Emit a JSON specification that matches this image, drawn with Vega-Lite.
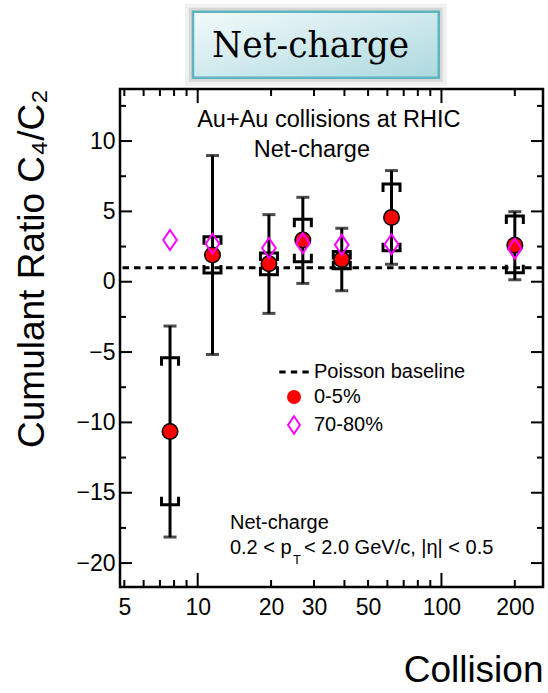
{
  "$schema": "https://vega.github.io/schema/vega-lite/v6.json",
  "width": 423,
  "height": 498,
  "autosize": "none",
  "padding": {"left": 120, "top": 89, "right": 5, "bottom": 106},
  "background": "white",
  "config": {
    "view": {"stroke": "black", "strokeWidth": 2.5},
    "axis": {"domain": false, "grid": false, "tickColor": "black", "tickWidth": 2, "labelFont": "Liberation Sans", "labelColor": "black", "titleFont": "Liberation Sans", "titleColor": "black", "titleFontWeight": "normal"},
    "legend": {"symbolStrokeWidth": 2, "symbolSize": 196},
    "text": {"font": "Liberation Sans", "color": "black"}
  },
  "datasets": {
    "cent": [
      {"energy": 7.7, "series": "0-5%", "value": -10.65, "statLo": -18.15, "statHi": -3.15, "sysLo": -15.85, "sysHi": -5.4},
      {"energy": 11.5, "series": "0-5%", "value": 1.9, "statLo": -5.17, "statHi": 8.97, "sysLo": 0.62, "sysHi": 3.2},
      {"energy": 19.6, "series": "0-5%", "value": 1.28, "statLo": -2.25, "statHi": 4.77, "sysLo": 0.5, "sysHi": 2.05},
      {"energy": 27, "series": "0-5%", "value": 2.97, "statLo": -0.12, "statHi": 6.0, "sysLo": 1.42, "sysHi": 4.44},
      {"energy": 39, "series": "0-5%", "value": 1.58, "statLo": -0.64, "statHi": 3.8, "sysLo": 0.92, "sysHi": 2.14},
      {"energy": 62.4, "series": "0-5%", "value": 4.56, "statLo": 1.24, "statHi": 7.9, "sysLo": 2.2, "sysHi": 6.95},
      {"energy": 200, "series": "0-5%", "value": 2.6, "statLo": 0.14, "statHi": 4.98, "sysLo": 0.64, "sysHi": 4.68},
      {"energy": 7.7, "series": "70-80%", "value": 2.97},
      {"energy": 11.5, "series": "70-80%", "value": 2.7},
      {"energy": 19.6, "series": "70-80%", "value": 2.4},
      {"energy": 27, "series": "70-80%", "value": 2.73},
      {"energy": 39, "series": "70-80%", "value": 2.62},
      {"energy": 62.4, "series": "70-80%", "value": 2.66},
      {"energy": 200, "series": "70-80%", "value": 2.35}
    ],
    "xticks": [
      {"v": 5, "kind": "minor"}, {"v": 6, "kind": "minor"}, {"v": 7, "kind": "minor"}, {"v": 8, "kind": "minor"}, {"v": 9, "kind": "minor"},
      {"v": 10, "kind": "major"},
      {"v": 20, "kind": "minor"}, {"v": 30, "kind": "minor"}, {"v": 40, "kind": "minor"}, {"v": 50, "kind": "minor"}, {"v": 60, "kind": "minor"}, {"v": 70, "kind": "minor"}, {"v": 80, "kind": "minor"}, {"v": 90, "kind": "minor"},
      {"v": 100, "kind": "major"},
      {"v": 200, "kind": "minor"}
    ],
    "yticks": [
      {"v": -20, "kind": "major"}, {"v": -17.5, "kind": "minor"}, {"v": -15, "kind": "major"}, {"v": -12.5, "kind": "minor"},
      {"v": -10, "kind": "major"}, {"v": -7.5, "kind": "minor"}, {"v": -5, "kind": "major"}, {"v": -2.5, "kind": "minor"},
      {"v": 0, "kind": "major"}, {"v": 2.5, "kind": "minor"}, {"v": 5, "kind": "major"}, {"v": 7.5, "kind": "minor"},
      {"v": 10, "kind": "major"}, {"v": 12.5, "kind": "minor"}
    ]
  },
  "layer": [
    {
      "data": {"values": [{}]},
      "mark": {"type": "rect", "fill": null, "stroke": "black", "strokeOpacity": 0.06, "strokeWidth": 16, "clip": false},
      "encoding": {
        "x": {"datum": 9.566, "type": "quantitative", "scale": {"type": "log", "domain": [4.8, 261], "nice": false}},
        "x2": {"datum": 97.5},
        "y": {"datum": 19.2, "type": "quantitative", "scale": {"domain": [-21.7, 13.7], "nice": false, "zero": false}},
        "y2": {"datum": 14.5}
      }
    },
    {
      "data": {"values": [{}]},
      "mark": {"type": "rect", "fill": null, "stroke": "black", "strokeOpacity": 0.1, "strokeWidth": 8, "clip": false},
      "encoding": {
        "x": {"datum": 9.566, "type": "quantitative", "scale": {"type": "log", "domain": [4.8, 261], "nice": false}},
        "x2": {"datum": 97.5},
        "y": {"datum": 19.2, "type": "quantitative", "scale": {"domain": [-21.7, 13.7], "nice": false, "zero": false}},
        "y2": {"datum": 14.5}
      }
    },
    {
      "data": {"values": [{}]},
      "mark": {"type": "rect", "clip": false, "stroke": "#5db5c0", "strokeWidth": 2.5,
        "fill": {"gradient": "linear", "x1": 0, "y1": 0, "x2": 1, "y2": 1, "stops": [{"offset": 0, "color": "#f3fafb"}, {"offset": 1, "color": "#acd9df"}]}},
      "encoding": {
        "x": {"datum": 9.566, "type": "quantitative", "scale": {"type": "log", "domain": [4.8, 261], "nice": false}},
        "x2": {"datum": 97.5},
        "y": {"datum": 19.2, "type": "quantitative", "scale": {"domain": [-21.7, 13.7], "nice": false, "zero": false}},
        "y2": {"datum": 14.5}
      }
    },
    {
      "data": {"values": [{}]},
      "mark": {"type": "text", "text": "Net-charge", "font": "DejaVu Serif", "fontSize": 34.5, "align": "left", "baseline": "alphabetic", "clip": false},
      "encoding": {
        "x": {"datum": 11.45, "type": "quantitative", "scale": {"type": "log", "domain": [4.8, 261], "nice": false}},
        "y": {"datum": 15.96, "type": "quantitative", "scale": {"domain": [-21.7, 13.7], "nice": false, "zero": false}}
      }
    },
    {
      "data": {"name": "xticks"},
      "transform": [{"filter": "datum.kind === 'major'"}],
      "mark": {"type": "rule", "color": "black", "strokeWidth": 2},
      "encoding": {
        "x": {"field": "v", "type": "quantitative", "scale": {"type": "log", "domain": [4.8, 261], "nice": false}},
        "y": {"datum": -21.7, "type": "quantitative", "scale": {"domain": [-21.7, 13.7], "nice": false, "zero": false}},
        "y2": {"datum": -20.7}
      }
    },
    {
      "data": {"name": "xticks"},
      "transform": [{"filter": "datum.kind === 'minor'"}],
      "mark": {"type": "rule", "color": "black", "strokeWidth": 2},
      "encoding": {
        "x": {"field": "v", "type": "quantitative", "scale": {"type": "log", "domain": [4.8, 261], "nice": false}},
        "y": {"datum": -21.7, "type": "quantitative", "scale": {"domain": [-21.7, 13.7], "nice": false, "zero": false}},
        "y2": {"datum": -21.2}
      }
    },
    {
      "data": {"name": "xticks"},
      "transform": [{"filter": "datum.kind === 'major'"}],
      "mark": {"type": "rule", "color": "black", "strokeWidth": 2},
      "encoding": {
        "x": {"field": "v", "type": "quantitative", "scale": {"type": "log", "domain": [4.8, 261], "nice": false}},
        "y": {"datum": 13.7, "type": "quantitative", "scale": {"domain": [-21.7, 13.7], "nice": false, "zero": false}},
        "y2": {"datum": 12.7}
      }
    },
    {
      "data": {"name": "xticks"},
      "transform": [{"filter": "datum.kind === 'minor'"}],
      "mark": {"type": "rule", "color": "black", "strokeWidth": 2},
      "encoding": {
        "x": {"field": "v", "type": "quantitative", "scale": {"type": "log", "domain": [4.8, 261], "nice": false}},
        "y": {"datum": 13.7, "type": "quantitative", "scale": {"domain": [-21.7, 13.7], "nice": false, "zero": false}},
        "y2": {"datum": 13.2}
      }
    },
    {
      "data": {"name": "yticks"},
      "transform": [{"filter": "datum.kind === 'major'"}],
      "mark": {"type": "rule", "color": "black", "strokeWidth": 2},
      "encoding": {
        "y": {"field": "v", "type": "quantitative", "scale": {"domain": [-21.7, 13.7], "nice": false, "zero": false}},
        "x": {"datum": 4.8, "type": "quantitative", "scale": {"type": "log", "domain": [4.8, 261], "nice": false}},
        "x2": {"datum": 5.376}
      }
    },
    {
      "data": {"name": "yticks"},
      "transform": [{"filter": "datum.kind === 'minor'"}],
      "mark": {"type": "rule", "color": "black", "strokeWidth": 2},
      "encoding": {
        "y": {"field": "v", "type": "quantitative", "scale": {"domain": [-21.7, 13.7], "nice": false, "zero": false}},
        "x": {"datum": 4.8, "type": "quantitative", "scale": {"type": "log", "domain": [4.8, 261], "nice": false}},
        "x2": {"datum": 5.08}
      }
    },
    {
      "data": {"name": "yticks"},
      "transform": [{"filter": "datum.kind === 'major'"}],
      "mark": {"type": "rule", "color": "black", "strokeWidth": 2},
      "encoding": {
        "y": {"field": "v", "type": "quantitative", "scale": {"domain": [-21.7, 13.7], "nice": false, "zero": false}},
        "x": {"datum": 261, "type": "quantitative", "scale": {"type": "log", "domain": [4.8, 261], "nice": false}},
        "x2": {"datum": 233}
      }
    },
    {
      "data": {"name": "yticks"},
      "transform": [{"filter": "datum.kind === 'minor'"}],
      "mark": {"type": "rule", "color": "black", "strokeWidth": 2},
      "encoding": {
        "y": {"field": "v", "type": "quantitative", "scale": {"domain": [-21.7, 13.7], "nice": false, "zero": false}},
        "x": {"datum": 261, "type": "quantitative", "scale": {"type": "log", "domain": [4.8, 261], "nice": false}},
        "x2": {"datum": 246.6}
      }
    },
    {
      "data": {"values": [{}]},
      "mark": {"type": "rule", "color": "black", "strokeWidth": 3, "strokeDash": [6.5, 5]},
      "encoding": {
        "y": {"datum": 1, "type": "quantitative", "scale": {"domain": [-21.7, 13.7], "nice": false, "zero": false}}
      }
    },
    {
      "data": {"name": "cent"},
      "transform": [{"filter": "datum.series === '0-5%'"}],
      "mark": {"type": "rule", "color": "black", "strokeWidth": 3},
      "encoding": {
        "x": {"field": "energy", "type": "quantitative", "scale": {"type": "log", "domain": [4.8, 261], "nice": false},
          "axis": {"orient": "bottom", "values": [5, 10, 20, 30, 50, 100, 200], "format": "d", "ticks": false, "labelFontSize": 23, "labelPadding": 9, "labelFlush": false, "labelOverlap": false,
            "title": "Collision", "titleFontSize": 37, "titleAnchor": "end", "titleAlign": "right", "titlePadding": 33}},
        "y": {"field": "statLo", "type": "quantitative", "scale": {"domain": [-21.7, 13.7], "nice": false, "zero": false},
          "axis": {"orient": "left", "values": [-20, -15, -10, -5, 0, 5, 10], "ticks": false, "labelFontSize": 23, "labelPadding": 5, "labelFlush": false, "labelOverlap": false,
            "title": "Cumulant Ratio C₄/C₂", "titleFontSize": 37, "titleAnchor": "end", "titlePadding": 24}},
        "y2": {"field": "statHi"}
      }
    },
    {
      "data": {"name": "cent"},
      "transform": [{"filter": "datum.series === '0-5%'"}, {"fold": ["statLo", "statHi"], "as": ["which", "capY"]}],
      "mark": {"type": "tick", "orient": "horizontal", "color": "black", "size": 13, "thickness": 3},
      "encoding": {
        "x": {"field": "energy", "type": "quantitative", "scale": {"type": "log", "domain": [4.8, 261], "nice": false}},
        "y": {"field": "capY", "type": "quantitative", "scale": {"domain": [-21.7, 13.7], "nice": false, "zero": false}}
      }
    },
    {
      "data": {"name": "cent"},
      "transform": [{"filter": "datum.series === '0-5%'"}],
      "mark": {"type": "point", "shape": "M-1,0.94V0H1V0.94", "size": 289, "filled": false, "stroke": "black", "strokeWidth": 3, "opacity": 1},
      "encoding": {
        "x": {"field": "energy", "type": "quantitative", "scale": {"type": "log", "domain": [4.8, 261], "nice": false}},
        "y": {"field": "sysHi", "type": "quantitative", "scale": {"domain": [-21.7, 13.7], "nice": false, "zero": false}}
      }
    },
    {
      "data": {"name": "cent"},
      "transform": [{"filter": "datum.series === '0-5%'"}],
      "mark": {"type": "point", "shape": "M-1,-0.94V0H1V-0.94", "size": 289, "filled": false, "stroke": "black", "strokeWidth": 3, "opacity": 1},
      "encoding": {
        "x": {"field": "energy", "type": "quantitative", "scale": {"type": "log", "domain": [4.8, 261], "nice": false}},
        "y": {"field": "sysLo", "type": "quantitative", "scale": {"domain": [-21.7, 13.7], "nice": false, "zero": false}}
      }
    },
    {
      "data": {"name": "cent"},
      "transform": [{"filter": "datum.series === '0-5%'"}],
      "mark": {"type": "point", "filled": true, "shape": "circle", "size": 289, "color": "black", "opacity": 1},
      "encoding": {
        "x": {"field": "energy", "type": "quantitative", "scale": {"type": "log", "domain": [4.8, 261], "nice": false}},
        "y": {"field": "value", "type": "quantitative", "scale": {"domain": [-21.7, 13.7], "nice": false, "zero": false}}
      }
    },
    {
      "data": {"name": "cent"},
      "transform": [{"filter": "datum.series === '0-5%'"}],
      "mark": {"type": "point", "filled": true, "size": 196, "strokeWidth": 2, "opacity": 1},
      "encoding": {
        "x": {"field": "energy", "type": "quantitative", "scale": {"type": "log", "domain": [4.8, 261], "nice": false}},
        "y": {"field": "value", "type": "quantitative", "scale": {"domain": [-21.7, 13.7], "nice": false, "zero": false}},
        "fill": {"field": "series", "type": "nominal",
          "scale": {"domain": ["Poisson baseline", "0-5%", "70-80%"], "range": ["black", "red", "transparent"]},
          "legend": {"title": null, "orient": "none", "legendX": 164, "legendY": 273, "padding": 0, "labelFont": "Liberation Sans", "labelFontSize": 20, "labelColor": "black", "labelOffset": 10, "rowPadding": 4, "symbolSize": 196, "symbolStrokeWidth": 2}},
        "stroke": {"field": "series", "type": "nominal",
          "scale": {"domain": ["Poisson baseline", "0-5%", "70-80%"], "range": ["transparent", "transparent", "#ff00ff"]},
          "legend": {"title": null, "orient": "none", "legendX": 164, "legendY": 273, "padding": 0, "labelFont": "Liberation Sans", "labelFontSize": 20, "labelColor": "black", "labelOffset": 10, "rowPadding": 4, "symbolSize": 196, "symbolStrokeWidth": 2}},
        "shape": {"field": "series", "type": "nominal",
          "scale": {"domain": ["Poisson baseline", "0-5%", "70-80%"], "range": ["M-2.1,-0.21H-1.2V0.21H-2.1Z M-0.45,-0.21H0.45V0.21H-0.45Z M1.2,-0.21H2.1V0.21H1.2Z", "circle", "M0,-1.25L0.85,0L0,1.25L-0.85,0Z"]},
          "legend": {"title": null, "orient": "none", "legendX": 164, "legendY": 273, "padding": 0, "labelFont": "Liberation Sans", "labelFontSize": 20, "labelColor": "black", "labelOffset": 10, "rowPadding": 4, "symbolSize": 196, "symbolStrokeWidth": 2}}
      }
    },
    {
      "data": {"name": "cent"},
      "transform": [{"filter": "datum.series === '70-80%'"}],
      "mark": {"type": "point", "filled": true, "size": 256, "strokeWidth": 2, "opacity": 1},
      "encoding": {
        "x": {"field": "energy", "type": "quantitative", "scale": {"type": "log", "domain": [4.8, 261], "nice": false}},
        "y": {"field": "value", "type": "quantitative", "scale": {"domain": [-21.7, 13.7], "nice": false, "zero": false}},
        "fill": {"field": "series", "type": "nominal"},
        "stroke": {"field": "series", "type": "nominal"},
        "shape": {"field": "series", "type": "nominal"}
      }
    },
    {
      "data": {"values": [{}]},
      "mark": {"type": "text", "text": "Au+Au collisions at RHIC", "fontSize": 23.5, "align": "center", "baseline": "alphabetic"},
      "encoding": {
        "x": {"datum": 34.5, "type": "quantitative", "scale": {"type": "log", "domain": [4.8, 261], "nice": false}},
        "y": {"datum": 11.03, "type": "quantitative", "scale": {"domain": [-21.7, 13.7], "nice": false, "zero": false}}
      }
    },
    {
      "data": {"values": [{}]},
      "mark": {"type": "text", "text": "Net-charge", "fontSize": 23.5, "align": "center", "baseline": "alphabetic"},
      "encoding": {
        "x": {"datum": 29.4, "type": "quantitative", "scale": {"type": "log", "domain": [4.8, 261], "nice": false}},
        "y": {"datum": 8.87, "type": "quantitative", "scale": {"domain": [-21.7, 13.7], "nice": false, "zero": false}}
      }
    },
    {
      "data": {"values": [{}]},
      "mark": {"type": "text", "text": "Net-charge", "fontSize": 20, "align": "left", "baseline": "alphabetic"},
      "encoding": {
        "x": {"datum": 13.56, "type": "quantitative", "scale": {"type": "log", "domain": [4.8, 261], "nice": false}},
        "y": {"datum": -17.55, "type": "quantitative", "scale": {"domain": [-21.7, 13.7], "nice": false, "zero": false}}
      }
    },
    {
      "data": {"values": [{}]},
      "mark": {"type": "text", "text": "0.2 < p", "fontSize": 20, "align": "left", "baseline": "alphabetic"},
      "encoding": {
        "x": {"datum": 13.56, "type": "quantitative", "scale": {"type": "log", "domain": [4.8, 261], "nice": false}},
        "y": {"datum": -19.38, "type": "quantitative", "scale": {"domain": [-21.7, 13.7], "nice": false, "zero": false}}
      }
    },
    {
      "data": {"values": [{}]},
      "mark": {"type": "text", "text": "T", "fontSize": 13, "align": "left", "baseline": "alphabetic"},
      "encoding": {
        "x": {"datum": 24.58, "type": "quantitative", "scale": {"type": "log", "domain": [4.8, 261], "nice": false}},
        "y": {"datum": -20.04, "type": "quantitative", "scale": {"domain": [-21.7, 13.7], "nice": false, "zero": false}}
      }
    },
    {
      "data": {"values": [{}]},
      "mark": {"type": "text", "text": " < 2.0 GeV/c, |η| < 0.5", "fontSize": 20, "align": "left", "baseline": "alphabetic"},
      "encoding": {
        "x": {"datum": 27.3, "type": "quantitative", "scale": {"type": "log", "domain": [4.8, 261], "nice": false}},
        "y": {"datum": -19.38, "type": "quantitative", "scale": {"domain": [-21.7, 13.7], "nice": false, "zero": false}}
      }
    }
  ]
}
